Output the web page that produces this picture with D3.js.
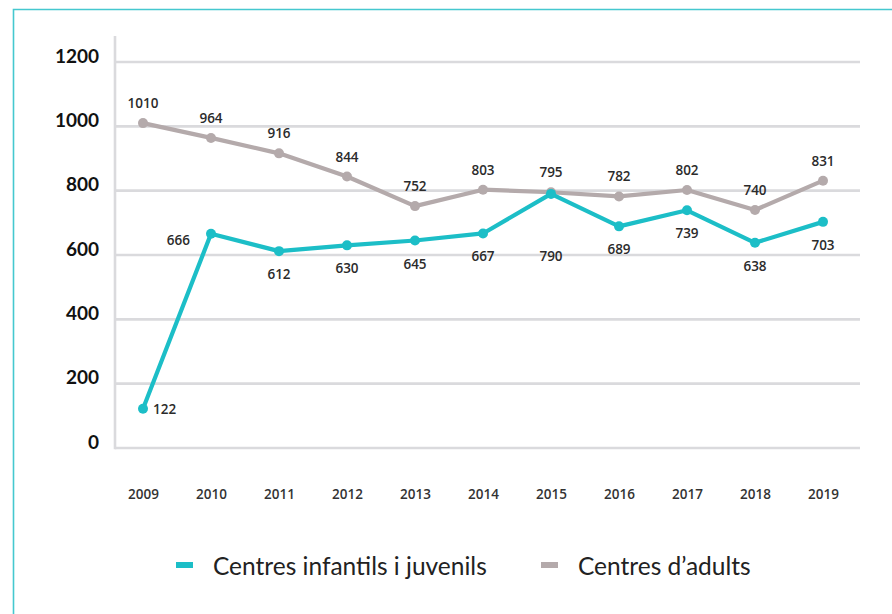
<!DOCTYPE html>
<html>
<head>
<meta charset="utf-8">
<script src="https://cdn.jsdelivr.net/npm/d3@7"></script>
<style>
  html, body { margin: 0; padding: 0; background: #fff; }
  svg { display: block; }
</style>
</head>
<body>
<svg id="chart" width="892" height="614"></svg>
<script>
const years = ["2009","2010","2011","2012","2013","2014","2015","2016","2017","2018","2019"];
const infantils = [122, 666, 612, 630, 645, 667, 790, 689, 739, 638, 703];
const adults = [1010, 964, 916, 844, 752, 803, 795, 782, 802, 740, 831];
const yTicks = [0, 200, 400, 600, 800, 1000, 1200];
const seriesNames = ["Centres infantils i juvenils", "Centres d\u2019adults"];
const infantilsLabelPlacement = ["right","left","below","below","below","below","belowFar","below","below","below","below"];

const TEAL = "#1cbec7";
const GREY = "#b4aaab";
const GRID = "#dadadd";

const svg = d3.select("#chart");

// frame border
svg.append("path")
  .attr("d", "M13.5,620 L13.5,9.5 L900,9.5")
  .attr("fill", "none")
  .attr("stroke", "#45c8cf")
  .attr("stroke-width", 1.6);

const x = d3.scalePoint().domain(years).range([143, 823]).padding(0);
const y = d3.scaleLinear().domain([0, 1200]).range([448, 62]);

// gridlines
const g = svg.append("g");
g.selectAll("line.grid")
  .data(yTicks)
  .join("line")
  .attr("class", "grid")
  .attr("x1", 115).attr("x2", 860)
  .attr("y1", d => y(d)).attr("y2", d => y(d))
  .attr("stroke", GRID)
  .attr("stroke-width", 2.6);

// y axis line
g.append("line")
  .attr("x1", 115).attr("x2", 115)
  .attr("y1", 36).attr("y2", y(0) + 1.3)
  .attr("stroke", GRID)
  .attr("stroke-width", 2.6);

// y axis labels
const yAxis = d3.axisLeft(y).tickValues(yTicks).tickSize(0).tickPadding(0).tickFormat(d3.format("d"));
const yAxisG = svg.append("g").attr("transform", "translate(99,-6)").call(yAxis);
yAxisG.select(".domain").remove();
yAxisG.selectAll("text")
  .attr("font-family", "Lato, 'Open Sans', sans-serif")
  .attr("font-weight", 700)
  .attr("font-size", 19)
  .attr("fill", "#111");

// x axis labels
const xAxis = d3.axisBottom(x).tickSize(0).tickPadding(0);
const xAxisG = svg.append("g").attr("transform", "translate(0,489)").call(xAxis);
xAxisG.select(".domain").remove();
xAxisG.selectAll("text")
  .attr("font-family", "'Open Sans', sans-serif")
  .attr("font-weight", 600)
  .attr("font-size", 13.5)
  .attr("fill", "#333");

const line = d3.line().x((d, i) => x(years[i])).y(d => y(d));

function drawSeries(values, color) {
  svg.append("path")
    .datum(values)
    .attr("fill", "none")
    .attr("stroke", color)
    .attr("stroke-width", 4.2)
    .attr("stroke-linejoin", "round")
    .attr("d", line);
  svg.append("g").selectAll("circle")
    .data(values)
    .join("circle")
    .attr("cx", (d, i) => x(years[i]))
    .attr("cy", d => y(d))
    .attr("r", 5)
    .attr("fill", color);
}
drawSeries(adults, GREY);
drawSeries(infantils, TEAL);

const labelFont = { family: "'Open Sans', sans-serif", size: 13.5, weight: 600, fill: "#2b2b2b" };

// adults labels above
svg.append("g").selectAll("text")
  .data(adults)
  .join("text")
  .attr("x", (d, i) => x(years[i]))
  .attr("y", d => y(d) - 20)
  .attr("text-anchor", "middle")
  .attr("dominant-baseline", "central")
  .attr("font-family", labelFont.family)
  .attr("font-size", labelFont.size)
  .attr("font-weight", labelFont.weight)
  .attr("fill", labelFont.fill)
  .text(d => d);

// infantils labels
svg.append("g").selectAll("text")
  .data(infantils)
  .join("text")
  .attr("x", (d, i) => {
    const p = infantilsLabelPlacement[i];
    if (p === "right") return x(years[i]) + 10;
    if (p === "left") return x(years[i]) - 21;
    return x(years[i]);
  })
  .attr("y", (d, i) => {
    const p = infantilsLabelPlacement[i];
    if (p === "right") return y(d);
    if (p === "left") return y(d) + 6;
    if (p === "belowFar") return y(d) + 62;
    return y(d) + 23;
  })
  .attr("text-anchor", (d, i) => {
    const p = infantilsLabelPlacement[i];
    return p === "right" ? "start" : p === "left" ? "end" : "middle";
  })
  .attr("dominant-baseline", "central")
  .attr("font-family", labelFont.family)
  .attr("font-size", labelFont.size)
  .attr("font-weight", labelFont.weight)
  .attr("fill", labelFont.fill)
  .text(d => d);

// legend
const legendItems = [
  { name: seriesNames[0], color: TEAL, x: 176 },
  { name: seriesNames[1], color: GREY, x: 541 }
];
const lg = svg.append("g");
legendItems.forEach(it => {
  lg.append("rect")
    .attr("x", it.x).attr("y", 562)
    .attr("width", 17).attr("height", 6)
    .attr("fill", it.color);
  lg.append("text")
    .attr("x", it.x + 37).attr("y", 565)
    .attr("dominant-baseline", "central")
    .attr("font-family", "Lato, sans-serif")
    .attr("font-size", 24.5)
    .attr("fill", "#222")
    .text(it.name);
});
</script>
</body>
</html>
